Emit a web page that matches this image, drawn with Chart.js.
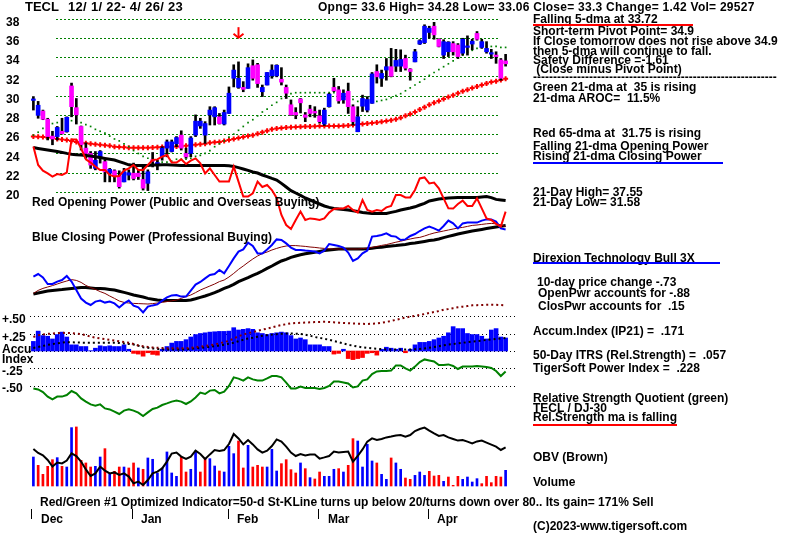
<!DOCTYPE html>
<html><head><meta charset="utf-8">
<script src="https://cdn.jsdelivr.net/npm/chart.js@4.4.0/dist/chart.umd.min.js"></script>
<style>
html,body{margin:0;padding:0;background:#fff;}
#wrap{position:relative;width:800px;height:536px;overflow:hidden;background:#fff;}
#c{position:absolute;left:0;top:0;}
.t{position:absolute;white-space:pre;font-family:"Liberation Sans",Arial,sans-serif;font-weight:bold;font-size:12px;line-height:12px;color:#000;}
.ln{position:absolute;height:2px;}
.tk{position:absolute;width:1px;height:10px;background:#000;}
</style></head>
<body><div id="wrap">
<canvas id="c" width="800" height="536"></canvas>
<div class="t" style="left:25px;top:1px;font-size:13px">TECL</div>
<div class="t" style="left:68px;top:1px;font-size:13px;letter-spacing:0.3px">12/ 1/ 22- 4/ 26/ 23</div>
<div class="t" style="left:318px;top:1px;letter-spacing:0.26px">Opng= 33.6 High= 34.28 Low= 33.06 Close= 33.3 Change= 1.42 Vol= 29527</div>
<div class="t" style="left:533px;top:13px">Falling 5-dma at 33.72</div>
<div class="ln" style="left:533px;top:24px;width:160px;background:#f00"></div>
<div class="t" style="left:533px;top:25px">Short-term Pivot Point= 34.9</div>
<div class="t" style="left:533px;top:35px">If Close tomorrow does not rise above 34.9</div>
<div class="t" style="left:533px;top:45px">then 5-dma will continue to fall.</div>
<div class="t" style="left:533px;top:54px">Safety Difference =-1.61</div>
<div class="t" style="left:533px;top:63px"> (Close minus Pivot Point)</div>
<div class="t" style="left:533px;top:71px">-------------------------------------------------------------</div>
<div class="t" style="left:533px;top:81px">Green 21-dma at  35 is rising</div>
<div class="t" style="left:533px;top:92px">21-dma AROC=  11.5%</div>
<div class="t" style="left:533px;top:127px">Red 65-dma at  31.75 is rising</div>
<div class="t" style="left:533px;top:140px">Falling 21-dma Opening Power</div>
<div class="t" style="left:533px;top:150px">Rising 21-dma Closing Power</div>
<div class="ln" style="left:533px;top:162px;width:190px;background:#00f"></div>
<div class="t" style="left:533px;top:186px">21-Day High= 37.55</div>
<div class="t" style="left:533px;top:196px">21-Day Low= 31.58</div>
<div class="t" style="left:533px;top:252px">Direxion Technology Bull 3X</div>
<div class="ln" style="left:533px;top:262px;width:187px;background:#00f"></div>
<div class="t" style="left:537px;top:276px">10-day price change -.73</div>
<div class="t" style="left:538px;top:287px">OpenPwr accounts for -.88</div>
<div class="t" style="left:538px;top:300px">ClosPwr accounts for  .15</div>
<div class="t" style="left:533px;top:325px">Accum.Index (IP21) =  .171</div>
<div class="t" style="left:533px;top:349px">50-Day ITRS (Rel.Strength) =  .057</div>
<div class="t" style="left:533px;top:362px">TigerSoft Power Index =  .228</div>
<div class="t" style="left:533px;top:392px">Relative Strength Quotient (green)</div>
<div class="t" style="left:533px;top:402px">TECL / DJ-30</div>
<div class="t" style="left:533px;top:411px">Rel.Strength ma is falling</div>
<div class="ln" style="left:533px;top:424px;width:144px;background:#f00"></div>
<div class="t" style="left:533px;top:451px">OBV (Brown)</div>
<div class="t" style="left:533px;top:476px">Volume</div>
<div class="t" style="left:533px;top:520px">(C)2023-www.tigersoft.com</div>
<div class="t" style="left:32px;top:196px">Red Opening Power (Public and Overseas Buying)</div>
<div class="t" style="left:32px;top:231px">Blue Closing Power (Professional Buying)</div>
<div class="t" style="left:2px;top:313px">+.50</div>
<div class="t" style="left:2px;top:331px">+.25</div>
<div class="t" style="left:2px;top:343px">Accu</div>
<div class="t" style="left:2px;top:353px">Index</div>
<div class="t" style="left:2px;top:365px">-.25</div>
<div class="t" style="left:2px;top:382px">-.50</div>
<div class="t" style="left:40px;top:496px">Red/Green #1 Optimized Indicator=50-d St-KLine turns up below 20/turns down over 80.. Its gain= 171% Sell</div>
<div class="tk" style="left:31px;top:509px"></div><div class="t" style="left:41px;top:513px">Dec</div>
<div class="tk" style="left:132px;top:509px"></div><div class="t" style="left:141px;top:513px">Jan</div>
<div class="tk" style="left:228px;top:509px"></div><div class="t" style="left:237px;top:513px">Feb</div>
<div class="tk" style="left:318px;top:509px"></div><div class="t" style="left:328px;top:513px">Mar</div>
<div class="tk" style="left:428px;top:509px"></div><div class="t" style="left:437px;top:513px">Apr</div>
</div>
<script>
const dates = ['12/1','12/2','12/5','12/6','12/7','12/8','12/9','12/12','12/13','12/14','12/15','12/16','12/19','12/20','12/21','12/22','12/23','12/27','12/28','12/29','12/30',
'1/3','1/4','1/5','1/6','1/9','1/10','1/11','1/12','1/13','1/17','1/18','1/19','1/20','1/23','1/24','1/25','1/26','1/27','1/30','1/31',
'2/1','2/2','2/3','2/6','2/7','2/8','2/9','2/10','2/13','2/14','2/15','2/16','2/17','2/21','2/22','2/23','2/24','2/27','2/28',
'3/1','3/2','3/3','3/6','3/7','3/8','3/9','3/10','3/13','3/14','3/15','3/16','3/17','3/20','3/21','3/22','3/23','3/24','3/27','3/28','3/29','3/30','3/31',
'4/3','4/4','4/5','4/6','4/10','4/11','4/12','4/13','4/14','4/17','4/18','4/19','4/20','4/21','4/24','4/25','4/26'];

const opens = [29.5,27.95,28.4,27.55,25.8,25.75,26.3,26.25,31.0,28.75, 26.8,24.55,24.0,22.45,23.5,23.15,21.95,22.2,21.65,21.05, 21.75,21.95,21.95,21.3,20.9,23.3,22.9,23.65,24.55,24.2, 25.0,25.9,24.0,24.0,25.9,26.85,25.9,28.0,27.8,27.8, 27.05,28.15,31.8,30.85,30.85,30.75,33.1,33.2,30.4,31.1, 32.05,32.05,31.7,30.85,29.05,28.25,29.65,28.0,28.6,28.3, 27.9,27.05,28.85,30.85,30.6,29.55,30.45,28.85,26.25,28.9, 28.5,29.2,32.5,31.8,32.65,33.0,33.05,33.05,33.85,32.75, 33.5,35.35,35.5,36.55,37.2,35.85,34.2,34.55,35.4,35.25, 34.4,35.0,35.35,36.45,35.0,34.55,34.3,34.2,33.7,33.6];
const highs = [29.9,29.4,28.5,27.65,26.3,26.8,27.65,27.8,31.3,29.7, 26.85,25.1,24.2,24.2,24.3,23.3,22.45,22.3,22.2,22.45, 22.3,23.0,22.3,22.6,22.3,24.1,23.3,24.7,25.4,25.4, 25.75,26.35,24.55,25.75,28.0,27.65,27.3,28.85,28.85,28.15, 28.5,30.9,33.2,33.5,31.45,33.3,33.7,33.35,31.1,32.4, 33.2,33.2,32.9,31.1,29.55,28.75,29.7,28.25,29.0,28.85, 28.5,28.7,30.25,31.8,30.95,30.6,31.3,29.05,28.85,30.05, 29.9,32.4,33.2,32.65,33.85,34.9,34.8,34.75,34.2,32.8, 34.8,35.8,37.35,37.2,37.6,35.9,35.8,35.6,35.6,35.4, 35.95,36.2,35.85,36.65,35.85,35.6,34.8,34.55,33.85,34.28];
const lows = [28.5,27.65,27.5,25.4,24.9,25.4,26.0,26.2,27.8,27.05, 24.35,23.5,22.45,22.3,23.0,21.05,21.05,21.05,20.4,21.05, 21.25,21.25,21.3,20.2,20.15,22.6,22.3,23.3,23.65,24.15, 24.7,24.35,23.5,23.65,25.75,26.6,25.05,26.95,26.95,27.05, 26.95,28.15,30.9,30.75,30.4,30.75,31.6,30.85,29.9,31.1, 31.8,31.95,31.1,29.7,27.95,27.6,28.2,27.3,27.8,27.75, 27.15,26.9,28.8,30.4,29.2,29.2,28.15,26.95,26.25,28.35, 28.3,29.2,31.3,30.95,31.6,31.95,32.5,32.5,32.65,31.6, 33.5,35.3,35.4,35.95,35.85,35.05,33.85,34.05,34.2,33.85, 34.2,34.2,34.75,35.75,34.9,34.4,33.85,33.35,31.6,33.06];
const closes = [29.6,29.0,27.55,25.75,25.5,26.7,26.05,27.75,28.85,28.0, 24.9,24.0,22.8,23.3,24.2,22.1,22.35,21.65,20.55,22.1, 22.0,21.4,21.6,20.4,22.1,23.2,23.0,24.55,25.2,25.2, 25.65,24.55,23.65,25.6,27.35,27.35,27.1,28.5,28.75,27.1, 28.25,30.25,32.65,31.8,30.65,32.9,31.8,31.25,30.85,32.4, 32.65,33.15,31.4,30.25,28.0,28.0,29.25,27.75,28.15,28.2, 27.3,28.5,30.15,30.5,29.45,30.25,28.85,27.3,27.8,29.7, 29.6,32.25,31.95,32.3,33.0,32.0,33.65,33.75,32.85,32.5, 34.55,35.7,37.2,37.0,36.3,35.1,35.6,35.55,34.55,34.05, 35.85,35.1,35.65,35.85,35.6,34.9,34.4,34.05,31.8,33.3];

const ma21 = [25.9,26.2,26.6,26.9,27.1,27.2,27.3,27.4,27.4,27.3, 27.2,27.0,26.8,26.5,26.3,26.1,25.8,25.5,25.3,25.0, 24.7,24.3,24.0,23.7,23.5,23.3,23.2,23.1,23.1,23.2, 23.4,23.4,23.4,23.5,23.7,23.8,24.0,24.3,24.7,25.0, 25.3,25.7,26.0,26.4,26.8,27.2,27.5,27.9,28.3,28.6, 29.0,29.3,29.7,30.0,30.2,30.3,30.3,30.3,30.3,30.3, 30.3,30.3,30.3,30.3,30.2,30.0,29.8,29.6,29.4,29.3, 29.2,29.3,29.4,29.5,29.6,29.8,30.0,30.2,30.5,30.8, 31.1,31.4,31.7,32.1,32.4,32.7,33.0,33.3,33.6,33.9, 34.2,34.5,34.7,34.9,35.0,35.1,35.1,35.1,35.0,35.0];
const ma65 = [25.75,25.72,25.7,25.65,25.6,25.5,25.45,25.4,25.3,25.2, 25.1,25.05,25.0,24.95,24.9,24.85,24.8,24.7,24.68,24.65, 24.6,24.6,24.6,24.6,24.6,24.62,24.65,24.68,24.7,24.7, 24.72,24.75,24.8,24.85,24.9,24.95,25.0,25.1,25.15,25.2, 25.3,25.4,25.5,25.6,25.7,25.8,25.9,26.05,26.2,26.35, 26.5,26.6,26.65,26.7,26.72,26.75,26.78,26.8,26.8,26.82, 26.85,26.85,26.85,26.85,26.85,26.88,26.9,26.95,27.0,27.05, 27.1,27.15,27.2,27.3,27.37,27.45,27.55,27.7,27.9,28.1, 28.3,28.55,28.8,29.05,29.25,29.45,29.65,29.85,30.05,30.25, 30.45,30.6,30.8,30.95,31.1,31.25,31.4,31.5,31.62,31.75];

// Opening / Closing Power (indicator units)
const openPower = [81.7,72.5,69.7,68.3,66.7,68,67.5,68.7,85.3,85.3, 80.8,75.3,73.7,71.7,70,70,67.5,66.7,67,69.7, 70.8,72.5,70,70,72.5,75,75.3,76.7,77.5,73.7, 73.7,75.3,73,74.7,75.8,73.3,68.3,70.8,67.5,64.2, 64.2,64.2,71.7,64.2,56.7,56.7,58.3,64.2,61.5,62.5, 60,56,47.5,42.5,40.5,45,49.2,45,45.8,45.5, 45,45.8,48.7,50.5,50.8,50.8,52,50,48.7,55, 50,49.2,50,49.5,51.3,52,57.5,57.5,56.3,56.3, 60,65.8,66.3,63.3,63.7,60.8,55.8,50.8,50.7,53, 54.7,52,52,55.8,50.8,45.8,45,43,41.7,49.2];
const openPowerMA = [81.2,80.8,80.4,80,79.6,79.2,78.8,78.3,77.9,77.6, 77.5,77.3,77,76.6,76.2,75.8,75.4,75,74.2,73.4, 72.6,72.2,72.2,72.2,72.3,72.5,72.5,72.6,72.6,72.5, 72.4,72.3,72.2,72.2,72.2,72.2,72.2,72.2,72.2,72.2, 72.2,72.1,71.8,71.2,70.5,69.8,69,68.5,67.5,66.7, 65.8,65,63.3,61.5,59.7,58.5,57.3,56,55,54, 53,52,51.3,50.8,50.5,50.3,50,49.6,49.2,48.8, 48.5,48.3,48.3,48.3,48.3,48.8,49.3,50,50.5,51, 51.6,52.5,53.3,54.5,55,55.5,55.8,56,56.1,56.2, 56.2,56.3,56.3,56.3,56.5,56.7,56.2,55.3,55,54.7];
const closePower = [16.7,18,16.3,13,13,14.2,15,17,14.2,10, 5.7,3.7,2.5,4.2,4.7,3.7,4.2,3.3,1.3,3.3, 4.7,2.2,1.3,-1.2,1.7,2.3,2.8,4.7,6.3,7.3, 7.5,6.7,6.7,9.7,12.7,14,15.8,17.5,18,20, 18.3,22,25.8,29.2,30.3,33.7,32,28.3,28.3,30.3, 32.5,35.3,35,33.3,31.2,30,30,29.7,29.5,29.2, 28.3,29.7,33,32.5,32,31.2,28.7,24.5,25.8,28.3, 29.7,36.7,37,37.5,38.3,37,36.7,35,35.3,37, 38,39.5,40.8,41.7,40.8,39.7,42,44.7,43.3,40.8, 43.3,43.7,43.7,43.7,44.7,45.3,45.3,44.2,40.8,40.3];
const closePowerMA = [8,8.5,9,9.5,9.8,10,10.2,10.5,10.8,11, 11.2,11.2,11,10.8,10.8,10.6,10.3,10,9.4,8.8, 8.2,7.5,7,6.5,5.8,5.4,5,4.8,4.7,4.7, 4.7,4.7,4.7,5,5.6,6.3,7,7.8,8.7,9.7, 10.8,11.7,12.8,14.2,15.2,16.2,17.3,18.3,19.5,20.8, 22,23.3,24.5,25.3,26.3,27,27.6,28.1,28.5,28.9, 29.3,29.7,30,30.3,30.5,30.5,30.5,30.5,30.5,30.5, 30.6,30.9,31.2,31.4,31.7,32,32.2,32.5,32.8,33.2, 33.5,33.9,34.3,34.7,35,35.5,36.2,36.8,37.4,38, 38.5,39,39.5,39.9,40.3,40.7,41.1,41.5,41.9,42.2];
const closePowerMA2 = [8.3,9.8,10.8,11.5,12.2,13,13.8,14.5,15.2,14.8, 13.8,12.3,11.2,10.3,9.2,8.3,7,5.8,4.5,3.8, 3.5,3.3,3.2,3.1,3,3.2,3.5,3.8,4.2,4.6, 5,5.8,6.7,7.5,8.7,10,11,12,13,14.2, 15,16.5,18.3,20.3,22,23.8,25.5,27,28.2,29, 30,30.8,31.5,32,32.2,32.2,32,31.8,31.5,31.3, 31,30.8,30.6,30.5,30.5,30.5,30.5,30.5,30.5,30.7, 31,31.3,31.8,32.3,32.7,33.3,33.9,34.4,35,35.5, 36,36.3,37,37.8,38.5,39,39.5,40,40.5,41, 41.3,41.8,42.3,42.5,42.8,43.1,43.3,43.1,42.6,41.7];

// Accumulation index (IP21) and its companion lines
const accum = [.137,.284,.22,.211,.172,.235,.27,.2,.088,.088, .064,.064,.005,.04,.074,.064,.074,.064,.064,.088, .025,-.034,-.044,-.074,-.025,-.049,-.059,.025,.064,.113, .137,.137,.162,.2,.235,.25,.26,.27,.275,.28, .28,.284,.333,.3,.31,.32,.31,.26,.25,.235, .25,.26,.27,.26,.22,.172,.186,.162,.088,.088, .088,.064,.064,-.044,-.034,.025,-.108,-.123,-.108,-.093, -.034,-.025,-.059,.025,.054,.04,.025,.04,-.025,.025, .088,.123,.123,.137,.162,.186,.211,.26,.348,.32, .32,.25,.235,.235,.211,.172,.3,.32,.2,.186];
const accumMaroon = [.2,.225,.235,.245,.25,.255,.26,.258,.255,.25, .24,.225,.205,.19,.18,.17,.16,.148,.138,.128, .118,.1,.08,.068,.058,.05,.046,.042,.04,.04, .04,.04,.04,.045,.055,.064,.072,.082,.092,.11, .128,.145,.18,.21,.235,.255,.27,.288,.305,.32, .337,.355,.37,.383,.395,.4,.403,.407,.41,.413, .415,.417,.415,.41,.405,.4,.397,.393,.39,.388, .387,.39,.395,.405,.415,.43,.445,.46,.478,.49, .503,.515,.528,.545,.557,.57,.59,.6,.612,.625, .633,.642,.652,.655,.658,.66,.662,.66,.656,.652];
const accumBlack = [.044,.058,.072,.088,.1,.11,.12,.127,.125,.122, .12,.118,.118,.118,.118,.118,.118,.118,.115,.108, .1,.093,.075,.054,.045,.037,.029,.024,.02,.02, .02,.02,.025,.03,.038,.044,.052,.06,.067,.078, .09,.105,.118,.14,.16,.178,.19,.205,.218,.226, .234,.24,.245,.25,.25,.248,.245,.232,.218,.2, .187,.175,.16,.142,.125,.108,.09,.076,.064,.052, .044,.038,.032,.027,.023,.02,.02,.02,.02,.022, .025,.029,.036,.046,.056,.068,.082,.092,.1,.11, .118,.126,.135,.142,.148,.158,.165,.172,.18,.186];
const accumTicks = [0.5, 0.25, 0, -0.25, -0.5];

// Relative strength quotient TECL / DJ-30 (indicator units)
const relStrength = [15.8,15.3,14,11.7,10.3,11.7,11.7,12.5,14.5,13.3, 10.8,9.2,7.8,7.2,7.8,5.8,5.3,4.2,3,4.7, 5.3,4.7,3.7,2,3.8,5.5,6.2,7.5,8.3,9.2, 9.7,9.2,8,9.3,11.3,13.7,13,14.7,15,13.3, 14.2,17,21.3,20.7,19.7,21.3,20.3,19.8,19.7,20.8, 22,22,21.3,18.7,15.8,15.8,16.7,16,16,16, 15.5,16,17,19.2,19.2,18.8,18.3,16.3,16.8,19.7, 20.3,23,24.3,24.5,24.5,24.7,27.3,27.3,25.8,24.7, 26.7,29,30.3,29.8,29.3,27.5,27.5,27.8,27,25.5, 26.7,26.8,26.8,27,26.8,26.5,26,24.5,22,24.2];

// Volume (thousands) and up(1)/down(0) volume days
const volume = [54.5,38.9,21.9,37,49.5,53.3,37,35.7,109.7,111, 48.3,43.3,35.7,37,54.5,70.2,21.9,27.6,35.7,35.7, 33.9,43.3,33.9,31.4,52.7,50.2,24.5,33.9,64,24.5, 18.2,54.5,26.3,31.4,65.8,26.3,51.4,51.4,37.6,28.2, 26.3,74.6,60.8,84.6,33.9,76.5,35.7,38.9,35.7,35.7, 69,28.2,42,49.5,30.7,24.5,43.3,32.6,15.7,13.2, 26.3,18.2,18.2,31.4,32.6,26.3,38.9,89,84.6,35.7, 78.4,47,43.3,21.9,12.5,52.7,43.3,31.4,15,12.5, 20,26.3,20,27.6,18.8,20,8.8,16.9,1.3,18.2, 12.5,16.9,7.5,13.8,4.4,18.2,6.3,18.2,16.9,29.5];
const volumeUp = [1,0,0,0,0,1,0,1,1,0, 0,0,0,1,1,0,1,0,0,1, 0,0,1,0,1,1,1,1,1,1, 1,0,0,1,1,0,0,1,1,0, 1,1,1,0,0,1,0,0,0,1, 1,1,0,0,0,0,1,0,1,0, 0,1,1,1,0,1,0,0,1,1, 1,1,0,1,1,0,1,1,0,0, 1,1,1,0,0,0,1,0,0,0, 1,1,1,1,0,0,0,0,0,1];
const obv = [25.5,23.5,22.3,20,16.7,18.7,18.3,19.7,23.3,22, 19.2,15.3,12,13.3,16.7,14.7,13.3,13.8,12.5,13.3, 11.7,8.3,9.2,7.5,10,13.3,14.2,15.8,19.2,23.2, 23.7,21.7,20.5,21.7,24.7,23,20.5,22.8,25,24.5, 25,28,33,30.8,27.8,30,27.8,25.3,23.7,24.7, 27,30.3,29.2,26.7,23.7,22,23,22.3,22.7,22.7, 20.7,21.3,22,24.2,23.8,24,24.2,19.2,22,25.3, 29.2,30.8,30,30.5,31.3,31.7,32.2,32.5,31.7,32.5, 34.5,35.5,36.2,34.7,33.3,32,32.5,31.3,30.5,29.7, 30,29.2,28.3,29.3,29.7,28.7,27.7,26.7,25,26.3];

const priceTicks = [20,22,24,26,28,30,32,34,36,38];
const signalDay = 43, signalTop = 37.1, signalTip = 36.0;

// ---- layout helpers (panel placement) ----
const AREA_T = 10, AREA_B = 526;
function band(v1, y1, v2, y2) {
  const k = (y2 - y1) / (v2 - v1);
  return { min: v1 + (AREA_B - y1) / k, max: v1 + (AREA_T - y1) / k };
}
const BLUE = '#0000ff', MAG = '#ff00ff', RED = '#ff0000', GRN = '#008000', MAR = '#800000';

const gridPlugin = {
  id: 'grids',
  beforeDatasetsDraw(chart) {
    const ctx = chart.ctx, p = chart.scales.yPrice, a = chart.scales.yAcc;
    ctx.save();
    ctx.lineWidth = 1;
    ctx.strokeStyle = GRN; ctx.setLineDash([2, 2]);
    priceTicks.forEach(v => { const y = Math.round(p.getPixelForValue(v)) + 0.5; ctx.beginPath(); ctx.moveTo(56, y); ctx.lineTo(498, y); ctx.stroke(); });
    ctx.strokeStyle = '#000'; ctx.setLineDash([1, 3]);
    accumTicks.forEach(v => { const y = Math.round(a.getPixelForValue(v)) + 0.5; ctx.beginPath(); ctx.moveTo(30, y); ctx.lineTo(518, y); ctx.stroke(); });
    ctx.restore();
  },
  afterDatasetsDraw(chart) {
    const ctx = chart.ctx, p = chart.scales.yPrice, x = chart.scales.x;
    const cx = Math.round(x.getPixelForValue(signalDay)) + 0.5;
    const y1 = p.getPixelForValue(signalTop), y2 = p.getPixelForValue(signalTip);
    ctx.save(); ctx.strokeStyle = RED; ctx.lineWidth = 2;
    ctx.beginPath(); ctx.moveTo(cx, y1); ctx.lineTo(cx, y2); ctx.stroke();
    ctx.beginPath(); ctx.moveTo(cx - 5, y2 - 4); ctx.lineTo(cx, y2); ctx.lineTo(cx + 5, y2 - 4); ctx.stroke();
    ctx.restore();
  }
};

const line = (data, axis, color, width, order, extra) => Object.assign({
  type: 'line', data, yAxisID: axis, borderColor: color, backgroundColor: color, borderWidth: width,
  pointRadius: 0, tension: 0, fill: false, order
}, extra || {});

const pr = band(38, 18.5, 20, 192);
const pw = band(0, 310, 50, 210);
const ac = band(0, 351, 0.5, 316);
const rs = band(0, 420, 50, 320);
const ob = band(0, 500, 50, 400);
const vo = band(0, 486, 100, 432.8);

new Chart(document.getElementById('c'), {
  type: 'bar',
  data: {
    labels: dates,
    datasets: [
      line(ma21, 'yPrice', GRN, 0, 30, { showLine: false, pointRadius: 1.2, pointStyle: 'rect', pointBorderWidth: 0, pointBackgroundColor: GRN }),
      line(ma65, 'yPrice', RED, 0, 30, { showLine: false, pointRadius: 2.5, pointStyle: 'cross', pointBorderWidth: 2, pointBorderColor: RED }),
      { type: 'bar', yAxisID: 'yPrice', data: lows.map((l, i) => [l, highs[i]]), backgroundColor: '#000', barThickness: 2, grouped: false, order: 25 },
      { type: 'bar', yAxisID: 'yPrice', data: opens.map((o, i) => [o, closes[i]]), backgroundColor: c => closes[c.dataIndex] >= opens[c.dataIndex] ? BLUE : MAG, barThickness: 4, minBarLength: 1.5, grouped: false, order: 24 },
      line(openPowerMA, 'yPw', '#000', 3, 12),
      line(openPower, 'yPw', RED, 2, 11),
      line(closePowerMA2, 'yPw', MAR, 1, 12),
      line(closePowerMA, 'yPw', '#000', 3, 12),
      line(closePower, 'yPw', BLUE, 2, 11),
      { type: 'bar', yAxisID: 'yAcc', data: accum, backgroundColor: c => accum[c.dataIndex] >= 0 ? BLUE : RED, barThickness: 4, grouped: false, order: 20 },
      line(accumMaroon, 'yAcc', MAR, 2, 10, { borderDash: [2, 3] }),
      line(accumBlack, 'yAcc', '#000', 2, 10, { borderDash: [2, 3] }),
      line(relStrength, 'yRs', GRN, 2, 10),
      { type: 'bar', yAxisID: 'yVol', data: volume, backgroundColor: c => volumeUp[c.dataIndex] ? BLUE : RED, barThickness: 2, grouped: false, order: 20 },
      line(obv, 'yObv', '#000', 2, 10)
    ]
  },
  options: {
    responsive: false, animation: false, devicePixelRatio: 1,
    layout: { padding: { left: 6, right: 292, top: AREA_T, bottom: 536 - AREA_B } },
    plugins: { legend: { display: false }, tooltip: { enabled: false } },
    scales: {
      x: { type: 'category', axis: 'x', offset: true, display: false },
      yPrice: {
        axis: 'y', position: 'left', min: pr.min, max: pr.max,
        afterFit: s => { s.width = 25; },
        afterBuildTicks: s => { s.ticks = priceTicks.map(v => ({ value: v })); },
        grid: { display: false }, border: { display: false },
        ticks: { color: '#000', font: { family: 'Liberation Sans', weight: 'bold', size: 12 }, crossAlign: 'far', padding: 0, labelOffset: 4 }
      },
      yPw: { axis: 'y', display: false, min: pw.min, max: pw.max },
      yAcc: { axis: 'y', display: false, min: ac.min, max: ac.max },
      yRs: { axis: 'y', display: false, min: rs.min, max: rs.max },
      yObv: { axis: 'y', display: false, min: ob.min, max: ob.max },
      yVol: { axis: 'y', display: false, min: vo.min, max: vo.max }
    }
  },
  plugins: [gridPlugin]
});
</script>
</body></html>
